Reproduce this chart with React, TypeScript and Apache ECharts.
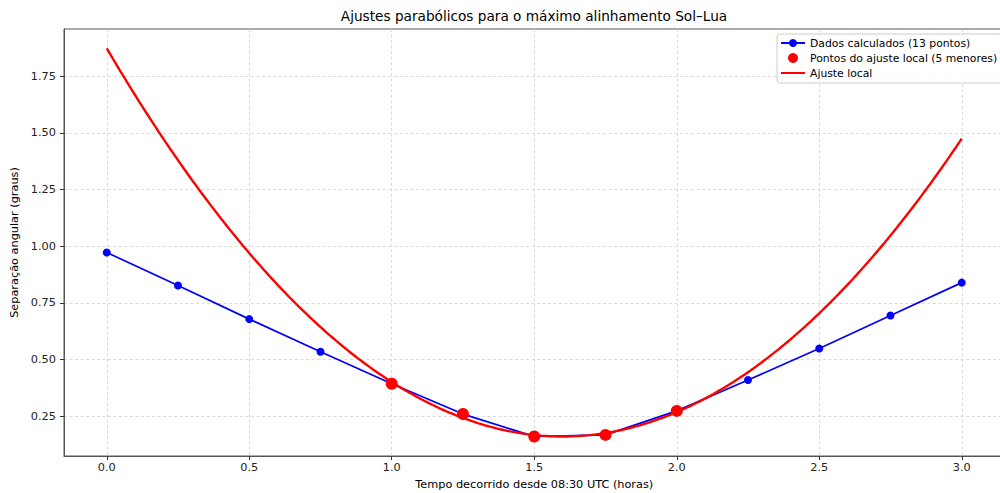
import React, { useEffect, useRef } from "react";
import * as echarts from "echarts";

// Elapsed time (hours since 08:30 UTC)
const hours = [0, 0.25, 0.5, 0.75, 1.0, 1.25, 1.5, 1.75, 2.0, 2.25, 2.5, 2.75, 3.0];
// Angular separation (degrees), 13 computed points
const separation = [0.972, 0.826, 0.678, 0.534, 0.393, 0.259, 0.16, 0.167, 0.273, 0.409, 0.548, 0.694, 0.839];

const xTicks = [0, 0.5, 1.0, 1.5, 2.0, 2.5, 3.0];
const yTicks = [0.25, 0.5, 0.75, 1.0, 1.25, 1.5, 1.75];

const TITLE = "Ajustes parabólicos para o máximo alinhamento Sol–Lua";
const X_NAME = "Tempo decorrido desde 08:30 UTC (horas)";
const Y_NAME = "Separação angular (graus)";
const NAME_DATA = "Dados calculados (13 pontos)";
const NAME_LOCAL = "Pontos do ajuste local (5 menores)";
const NAME_FIT = "Ajuste local";

const FONT = "DejaVu Sans";

// pick the 5 smallest separations
function smallestFive(): number[][] {
  const idx = separation.map((v, i) => i).sort((a, b) => separation[a] - separation[b]).slice(0, 5);
  idx.sort((a, b) => a - b);
  return idx.map((i) => [hours[i], separation[i]]);
}

// least-squares quadratic through the local points
function quadFit(pts: number[][]): [number, number, number] {
  let s0 = 0, s1 = 0, s2 = 0, s3 = 0, s4 = 0, t0 = 0, t1 = 0, t2 = 0;
  for (const [x, y] of pts) {
    s0 += 1; s1 += x; s2 += x * x; s3 += x ** 3; s4 += x ** 4;
    t0 += y; t1 += x * y; t2 += x * x * y;
  }
  const M = [
    [s4, s3, s2, t2],
    [s3, s2, s1, t1],
    [s2, s1, s0, t0],
  ];
  for (let c = 0; c < 3; c++) {
    for (let r = c + 1; r < 3; r++) {
      const f = M[r][c] / M[c][c];
      for (let k = c; k < 4; k++) M[r][k] -= f * M[c][k];
    }
  }
  const sol = [0, 0, 0];
  for (let r = 2; r >= 0; r--) {
    let s = M[r][3];
    for (let k = r + 1; k < 3; k++) s -= M[r][k] * sol[k];
    sol[r] = s / M[r][r];
  }
  return [sol[0], sol[1], sol[2]];
}

export default function App() {
  const ref = useRef<HTMLDivElement>(null);

  useEffect(() => {
    if (!ref.current) return;
    const chart = echarts.init(ref.current, undefined, { renderer: "svg" });

    const local = smallestFive();
    const [a, b, c] = quadFit(local);
    const fitCurve: number[][] = [];
    const N = 300;
    const x0 = hours[0];
    const x1 = hours[hours.length - 1];
    for (let i = 0; i < N; i++) {
      const x = x0 + ((x1 - x0) * i) / (N - 1);
      fitCurve.push([x, a * x * x + b * x + c]);
    }

    const gridLine = { show: true, lineStyle: { color: "#d2d2d2", width: 0.8, type: [3, 2.5] as any } };

    chart.setOption({
      animation: false,
      backgroundColor: "#fff",
      textStyle: { fontFamily: FONT },
      graphic: [
        {
          type: "text",
          x: 534,
          y: 9,
          z: 10,
          style: {
            text: TITLE,
            font: `13.65px '${FONT}'`,
            fill: "#000",
            textAlign: "center",
            textVerticalAlign: "top",
          },
        },
      ],
      legend: {
        orient: "vertical",
        left: 777,
        top: 34,
        itemWidth: 24,
        itemHeight: 10,
        itemGap: 1,
        padding: [2, 4, 3, 3],
        backgroundColor: "rgba(255,255,255,0.8)",
        borderColor: "#cccccc",
        borderWidth: 1,
        borderRadius: 3,
        textStyle: { fontFamily: FONT, fontSize: 10.8, color: "#000", lineHeight: 14 },
        data: [
          { name: NAME_DATA },
          { name: NAME_LOCAL, itemStyle: { opacity: 1 } },
          { name: NAME_FIT, itemStyle: { opacity: 0 } },
        ],
      },
      grid: {
        left: 64,
        top: 29,
        width: 940.5,
        height: 427,
        containLabel: false,
        outerBoundsMode: "none",
        show: true,
        borderColor: "#555",
        borderWidth: 1,
        backgroundColor: "transparent",
      },
      xAxis: {
        type: "value",
        min: -0.15,
        max: 3.15,
        name: X_NAME,
        nameLocation: "middle",
        nameGap: 23,
        nameTextStyle: { fontFamily: FONT, fontSize: 11.3, color: "#000" },
        axisLine: { show: true, onZero: false, lineStyle: { color: "#555", width: 1 } },
        axisTick: { show: true, length: 4, customValues: xTicks, lineStyle: { color: "#333" } },
        axisLabel: {
          customValues: xTicks,
          margin: 6,
          fontFamily: FONT,
          fontSize: 11.3,
          color: "#222",
          formatter: (v: number) => v.toFixed(1),
        },
        splitLine: gridLine,
      },
      yAxis: {
        type: "value",
        min: 0.074,
        max: 1.958,
        name: Y_NAME,
        nameLocation: "middle",
        nameGap: 37,
        nameTextStyle: { fontFamily: FONT, fontSize: 11.3, color: "#000" },
        axisLine: { show: true, onZero: false, lineStyle: { color: "#555", width: 1 } },
        axisTick: { show: true, length: 4, customValues: yTicks, lineStyle: { color: "#333" } },
        axisLabel: {
          customValues: yTicks,
          margin: 8,
          fontFamily: FONT,
          fontSize: 11.3,
          color: "#222",
          formatter: (v: number) => v.toFixed(2),
        },
        splitLine: gridLine,
      },
      series: [
        {
          name: NAME_DATA,
          type: "line",
          data: hours.map((h, i) => [h, separation[i]]),
          symbol: "circle",
          symbolSize: 8,
          showAllSymbol: true,
          lineStyle: { color: "#0000ff", width: 1.7 },
          itemStyle: { color: "#0000ff" },
          z: 2,
        },
        {
          name: NAME_LOCAL,
          type: "scatter",
          data: local,
          symbol: "circle",
          symbolSize: 12,
          itemStyle: { color: "#ff0000", opacity: 1 },
          z: 4,
        },
        {
          name: NAME_FIT,
          type: "line",
          data: fitCurve,
          showSymbol: false,
          symbol: "none",
          lineStyle: { color: "#ff0000", width: 2.4 },
          itemStyle: { color: "#ff0000" },
          z: 3,
        },
      ],
    });

    return () => chart.dispose();
  }, []);

  return (
    <div
      ref={ref}
      style={{ position: "fixed", left: 0, top: 0, width: 1000, height: 493, background: "#fff" }}
    />
  );
}
